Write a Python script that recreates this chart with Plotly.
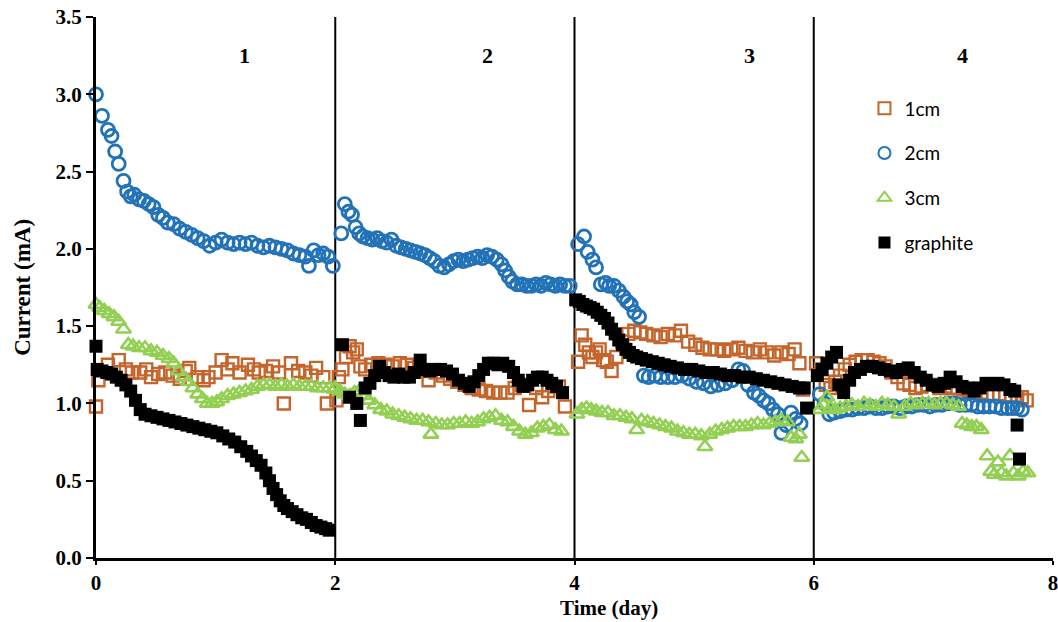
import plotly.graph_objects as go

# ---------------- data (time in days, current in mA) ----------------
x_1cm = [0.00,0.02,0.10,0.19,0.25,0.30,0.37,0.42,0.46,0.52,0.58,0.64,0.70,0.75,0.78,0.85,0.90,0.94,1.00,1.05,1.10,1.14,1.20,1.27,1.32,1.36,1.42,1.48,1.53,1.57,1.63,1.69,1.75,1.80,1.84,1.90,1.93,
         2.01,2.03,2.06,2.09,2.12,2.15,2.18,2.21,2.25,2.30,2.36,2.42,2.48,2.54,2.60,2.66,2.72,2.78,2.84,2.90,2.96,3.02,3.08,3.14,3.20,3.26,3.32,3.38,3.44,3.50,3.56,3.62,3.68,3.73,3.78,3.83,3.87,3.92,
         4.03,4.06,4.09,4.12,4.15,4.18,4.21,4.24,4.27,4.31,4.35,4.40,4.45,4.50,4.55,4.60,4.66,4.72,4.78,4.84,4.89,4.95,5.01,5.07,5.13,5.19,5.25,5.31,5.37,5.43,5.49,5.55,5.61,5.67,5.73,5.79,5.84,5.88,5.91,
         6.02,6.06,6.10,6.14,6.18,6.22,6.26,6.30,6.35,6.40,6.45,6.50,6.55,6.60,6.65,6.70,6.75,6.80,6.85,6.90,6.95,7.00,7.05,7.10,7.15,7.20,7.25,7.30,7.35,7.40,7.45,7.50,7.55,7.60,7.65,7.70,7.74,7.78]
y_1cm = [0.98,1.15,1.25,1.28,1.22,1.20,1.20,1.22,1.17,1.19,1.20,1.18,1.16,1.21,1.23,1.17,1.15,1.17,1.20,1.28,1.22,1.26,1.20,1.25,1.22,1.20,1.21,1.24,1.20,1.00,1.26,1.21,1.20,1.18,1.23,1.17,1.00,
         1.02,1.17,1.22,1.30,1.37,1.33,1.35,1.24,1.22,1.25,1.26,1.25,1.24,1.26,1.25,1.23,1.21,1.15,1.20,1.18,1.16,1.14,1.12,1.10,1.09,1.08,1.07,1.07,1.07,1.10,1.12,0.99,1.10,1.04,1.08,1.11,1.11,0.98,
         1.27,1.44,1.38,1.33,1.30,1.33,1.35,1.28,1.27,1.21,1.30,1.40,1.45,1.47,1.46,1.45,1.44,1.43,1.45,1.44,1.47,1.40,1.38,1.36,1.35,1.35,1.34,1.35,1.36,1.34,1.33,1.35,1.33,1.31,1.33,1.32,1.35,1.26,1.09,
         1.26,1.22,1.12,1.10,1.14,1.18,1.22,1.25,1.27,1.28,1.28,1.27,1.26,1.24,1.20,1.17,1.13,1.12,1.10,1.11,1.12,1.12,1.10,1.11,1.10,1.10,1.09,1.08,1.07,1.07,1.06,1.06,1.06,1.05,1.05,1.04,1.04,1.02]

x_2cm = [0.00,0.05,0.10,0.13,0.16,0.19,0.23,0.26,0.29,0.32,0.36,0.40,0.44,0.48,0.52,0.56,0.60,0.65,0.70,0.75,0.80,0.85,0.90,0.95,1.00,1.05,1.10,1.15,1.20,1.25,1.30,1.35,1.40,1.45,1.50,1.55,1.60,1.65,1.70,1.75,1.78,1.82,1.86,1.90,1.94,1.98,
         2.05,2.08,2.11,2.14,2.17,2.20,2.23,2.27,2.31,2.35,2.39,2.43,2.47,2.51,2.55,2.59,2.63,2.67,2.71,2.75,2.79,2.83,2.87,2.91,2.95,2.99,3.03,3.07,3.11,3.15,3.19,3.23,3.27,3.31,3.35,3.39,3.42,3.45,3.48,3.52,3.56,3.60,3.64,3.68,3.72,3.76,3.80,3.84,3.88,3.92,3.96,
         4.03,4.08,4.11,4.15,4.18,4.22,4.26,4.29,4.33,4.37,4.41,4.44,4.47,4.50,4.54,4.58,4.62,4.67,4.72,4.78,4.84,4.90,4.96,5.02,5.08,5.14,5.20,5.26,5.32,5.37,5.41,5.45,5.50,5.54,5.58,5.62,5.66,5.70,5.73,5.77,5.81,5.85,5.89,
         6.05,6.09,6.13,6.17,6.22,6.27,6.32,6.37,6.42,6.47,6.52,6.57,6.62,6.67,6.72,6.77,6.82,6.87,6.92,6.97,7.02,7.07,7.12,7.17,7.22,7.27,7.32,7.37,7.42,7.47,7.52,7.57,7.62,7.66,7.70,7.74]
y_2cm = [3.00,2.86,2.77,2.73,2.63,2.55,2.44,2.37,2.34,2.35,2.32,2.31,2.29,2.27,2.22,2.20,2.17,2.16,2.13,2.11,2.09,2.07,2.05,2.02,2.04,2.06,2.04,2.03,2.04,2.03,2.04,2.02,2.01,2.02,2.01,2.00,1.99,1.97,1.96,1.95,1.89,1.99,1.96,1.97,1.95,1.89,
         2.10,2.29,2.24,2.22,2.14,2.10,2.08,2.07,2.06,2.07,2.05,2.04,2.06,2.02,2.01,2.00,1.99,1.98,1.97,1.96,1.94,1.92,1.89,1.88,1.90,1.92,1.93,1.92,1.93,1.94,1.95,1.94,1.96,1.95,1.93,1.90,1.86,1.82,1.79,1.77,1.77,1.76,1.76,1.77,1.76,1.78,1.77,1.76,1.77,1.76,1.76,
         2.03,2.08,1.98,1.93,1.88,1.77,1.78,1.76,1.76,1.73,1.69,1.66,1.64,1.59,1.56,1.18,1.17,1.18,1.17,1.17,1.17,1.18,1.16,1.14,1.13,1.11,1.12,1.13,1.15,1.22,1.21,1.12,1.07,1.05,1.02,1.00,0.96,0.93,0.81,0.86,0.94,0.90,0.87,
         1.06,1.00,0.93,0.94,0.95,0.96,0.96,0.97,0.97,0.98,0.97,0.97,0.98,0.98,0.97,0.98,0.98,0.99,0.99,0.98,0.99,0.99,1.00,1.00,0.99,0.99,0.99,0.98,0.98,0.98,0.98,0.97,0.97,0.97,0.97,0.96]

x_3cm = [0.00,0.03,0.07,0.11,0.15,0.19,0.23,0.27,0.31,0.36,0.41,0.46,0.51,0.56,0.61,0.65,0.69,0.73,0.77,0.81,0.85,0.89,0.93,0.97,1.01,1.05,1.10,1.15,1.20,1.25,1.30,1.35,1.40,1.45,1.50,1.55,1.60,1.65,1.70,1.75,1.80,1.85,1.90,1.95,1.99,
         2.00,2.04,2.08,2.12,2.16,2.20,2.24,2.28,2.33,2.38,2.43,2.48,2.53,2.58,2.63,2.68,2.73,2.78,2.80,2.84,2.89,2.94,2.99,3.04,3.09,3.14,3.19,3.24,3.29,3.34,3.39,3.44,3.49,3.54,3.59,3.64,3.69,3.74,3.79,3.84,3.89,
         4.02,4.06,4.10,4.14,4.18,4.23,4.28,4.33,4.38,4.43,4.48,4.52,4.56,4.61,4.66,4.71,4.76,4.81,4.86,4.91,4.96,5.01,5.06,5.09,5.13,5.18,5.23,5.28,5.33,5.38,5.43,5.48,5.53,5.58,5.63,5.68,5.73,5.78,5.81,5.85,5.88,5.90,
         6.05,6.08,6.11,6.14,6.18,6.22,6.27,6.32,6.37,6.42,6.47,6.52,6.57,6.62,6.67,6.71,6.76,6.81,6.86,6.91,6.96,7.01,7.06,7.11,7.16,7.21,7.24,7.28,7.32,7.36,7.40,7.45,7.48,7.51,7.54,7.57,7.61,7.64,7.67,7.71,7.75,7.79]
y_3cm = [1.64,1.62,1.60,1.58,1.56,1.53,1.48,1.38,1.37,1.36,1.36,1.34,1.33,1.31,1.29,1.26,1.21,1.17,1.14,1.10,1.06,1.03,1.00,1.00,1.01,1.03,1.05,1.06,1.07,1.08,1.09,1.11,1.12,1.12,1.11,1.12,1.11,1.12,1.11,1.11,1.11,1.10,1.10,1.10,1.09,
         1.10,1.08,1.06,1.05,1.07,1.08,1.05,1.02,0.99,0.96,0.95,0.93,0.92,0.91,0.90,0.89,0.89,0.88,0.80,0.87,0.86,0.86,0.87,0.87,0.88,0.87,0.88,0.90,0.91,0.92,0.89,0.88,0.85,0.82,0.80,0.81,0.84,0.85,0.86,0.83,0.82,
         0.93,0.96,0.97,0.96,0.95,0.94,0.94,0.92,0.92,0.91,0.90,0.83,0.89,0.88,0.87,0.86,0.85,0.84,0.82,0.81,0.80,0.80,0.79,0.72,0.80,0.82,0.83,0.84,0.85,0.85,0.85,0.86,0.87,0.86,0.87,0.88,0.89,0.88,0.78,0.77,0.80,0.65,
         0.96,0.99,1.04,0.97,0.96,0.97,0.98,0.99,0.98,1.00,0.99,0.98,1.00,0.99,0.98,0.93,0.98,1.00,0.99,1.00,1.00,0.99,1.00,1.00,0.99,0.98,0.87,0.86,0.85,0.85,0.83,0.66,0.56,0.54,0.62,0.55,0.53,0.66,0.55,0.53,0.56,0.55]

x_graphite = [0.00,0.01,0.05,0.09,0.13,0.17,0.21,0.25,0.29,0.33,0.37,0.41,0.46,0.51,0.56,0.61,0.66,0.71,0.76,0.81,0.86,0.91,0.96,1.01,1.06,1.11,1.16,1.21,1.26,1.30,1.34,1.38,1.42,1.45,1.48,1.51,1.54,1.57,1.60,1.64,1.68,1.72,1.76,1.80,1.84,1.88,1.92,1.95,
              2.06,2.12,2.18,2.21,2.25,2.29,2.33,2.37,2.41,2.45,2.49,2.53,2.57,2.62,2.66,2.71,2.75,2.79,2.83,2.88,2.93,2.98,3.03,3.08,3.12,3.16,3.20,3.24,3.28,3.32,3.36,3.40,3.45,3.49,3.53,3.57,3.61,3.65,3.69,3.73,3.77,3.81,3.85,3.90,
              4.01,4.04,4.07,4.10,4.13,4.16,4.19,4.22,4.25,4.28,4.31,4.34,4.37,4.40,4.43,4.46,4.49,4.52,4.56,4.60,4.65,4.70,4.75,4.80,4.86,4.92,4.98,5.04,5.10,5.16,5.22,5.28,5.34,5.40,5.46,5.52,5.58,5.64,5.70,5.76,5.82,5.88,5.92,5.94,
              6.03,6.07,6.11,6.15,6.19,6.21,6.25,6.30,6.34,6.39,6.44,6.49,6.54,6.59,6.64,6.69,6.74,6.79,6.84,6.89,6.94,6.99,7.04,7.09,7.14,7.19,7.24,7.29,7.34,7.39,7.44,7.49,7.54,7.59,7.64,7.68,7.70,7.72]
y_graphite = [1.37,1.22,1.21,1.20,1.19,1.17,1.15,1.12,1.08,1.02,0.96,0.93,0.92,0.91,0.90,0.89,0.88,0.87,0.86,0.85,0.84,0.83,0.82,0.81,0.79,0.77,0.75,0.72,0.69,0.66,0.63,0.60,0.55,0.50,0.45,0.41,0.37,0.34,0.32,0.30,0.28,0.26,0.25,0.23,0.21,0.20,0.19,0.18,
              1.38,1.04,1.00,0.89,1.10,1.13,1.18,1.24,1.20,1.18,1.17,1.19,1.17,1.17,1.20,1.28,1.22,1.21,1.22,1.22,1.21,1.19,1.15,1.13,1.11,1.14,1.18,1.22,1.26,1.26,1.25,1.26,1.24,1.20,1.15,1.11,1.12,1.15,1.17,1.17,1.15,1.13,1.11,1.07,
              1.67,1.66,1.64,1.63,1.62,1.61,1.59,1.57,1.55,1.52,1.48,1.45,1.41,1.38,1.35,1.33,1.31,1.30,1.29,1.28,1.27,1.26,1.25,1.24,1.23,1.22,1.22,1.21,1.20,1.20,1.19,1.18,1.18,1.17,1.17,1.16,1.15,1.14,1.13,1.12,1.11,1.10,1.10,0.97,
              1.18,1.22,1.26,1.30,1.33,1.12,1.07,1.15,1.20,1.22,1.24,1.24,1.23,1.22,1.21,1.20,1.22,1.23,1.20,1.17,1.15,1.12,1.11,1.13,1.17,1.14,1.11,1.10,1.08,1.10,1.13,1.12,1.13,1.12,1.09,1.08,0.86,0.64]

x_ticks = [0, 2, 4, 6, 8]
phase_bounds = [2, 4, 6]
phase_labels = ["1", "2", "3", "4"]
phase_label_x = [1.24, 3.27, 5.46, 7.24]

series_names = ["1cm", "2cm", "3cm", "graphite"]
series_colors = ["#C4652C", "#2272B8", "#92CF52", "#000000"]

# ---------------- figure ----------------
serif = "Liberation Serif, Times New Roman, serif"
fig = go.Figure()

fig.add_trace(go.Scatter(x=x_1cm, y=y_1cm, mode="markers", name=series_names[0], legendgroup="a",
                         cliponaxis=False,
                         marker=dict(symbol="square-open", size=12, color=series_colors[0],
                                     line=dict(width=2.4, color=series_colors[0]))))
fig.add_trace(go.Scatter(x=x_2cm, y=y_2cm, mode="markers", name=series_names[1], legendgroup="b",
                         cliponaxis=False,
                         marker=dict(symbol="circle-open", size=13, color=series_colors[1],
                                     line=dict(width=2.8, color=series_colors[1]))))
fig.add_trace(go.Scatter(x=x_3cm, y=y_3cm, mode="markers", name=series_names[2], legendgroup="c",
                         cliponaxis=False,
                         marker=dict(symbol="triangle-up-open", size=13, color=series_colors[2],
                                     line=dict(width=2.6, color=series_colors[2]))))
fig.add_trace(go.Scatter(x=x_graphite, y=y_graphite, mode="markers", name=series_names[3], legendgroup="d",
                         cliponaxis=False,
                         marker=dict(symbol="square", size=13, color=series_colors[3],
                                     line=dict(width=0))))

for b in phase_bounds:
    fig.add_shape(type="line", xref="x", yref="paper", x0=b, x1=b, y0=0, y1=1,
                  line=dict(color="black", width=2), layer="below")

for lx, lt in zip(phase_label_x, phase_labels):
    fig.add_annotation(x=lx, y=3.25, xref="x", yref="y", text=lt, showarrow=False,
                       font=dict(family=serif, size=22, color="black", weight="bold"))

fig.add_annotation(x=0.536, y=-0.093, xref="paper", yref="paper", text="Time (day)",
                   showarrow=False, xanchor="center", yanchor="middle",
                   font=dict(family=serif, size=21, color="black", weight="bold"))
fig.add_annotation(x=-0.077, y=0.50, xref="paper", yref="paper", text="Current (mA)",
                   showarrow=False, textangle=-90, xanchor="center", yanchor="middle",
                   font=dict(family=serif, size=23, color="black", weight="bold"))

fig.update_layout(
    width=1058, height=622,
    margin=dict(l=96, r=5, t=17, b=64, autoexpand=False),
    paper_bgcolor="white", plot_bgcolor="white",
    showlegend=True,
    legend=dict(x=0.803, y=0.866, xanchor="left", yanchor="top",
                font=dict(family="Lato, Carlito, Liberation Sans, sans-serif", size=19, color="black"),
                tracegroupgap=17, bgcolor="rgba(0,0,0,0)", itemsizing="constant"),
    xaxis=dict(range=[0, 8], tickvals=x_ticks, showgrid=False, zeroline=False, automargin=False,
               showline=True, linecolor="black", linewidth=3, ticklabeloverflow="allow",
               ticks="outside", ticklen=4, tickwidth=2, tickcolor="black",
               tickfont=dict(family=serif, size=21, color="black", weight="bold")),
    yaxis=dict(range=[0, 3.5], dtick=0.5, tickformat=".1f", showgrid=False, zeroline=False, automargin=False,
               showline=True, linecolor="black", linewidth=3, ticklabeloverflow="allow",
               ticks="outside", ticklen=7, tickwidth=2, tickcolor="black",
               tickfont=dict(family=serif, size=21, color="black", weight="bold")),
)

fig.write_html("out.html", config={"displayModeBar": False},
               post_script="document.body.style.margin='0px';document.body.style.overflow='hidden';")
